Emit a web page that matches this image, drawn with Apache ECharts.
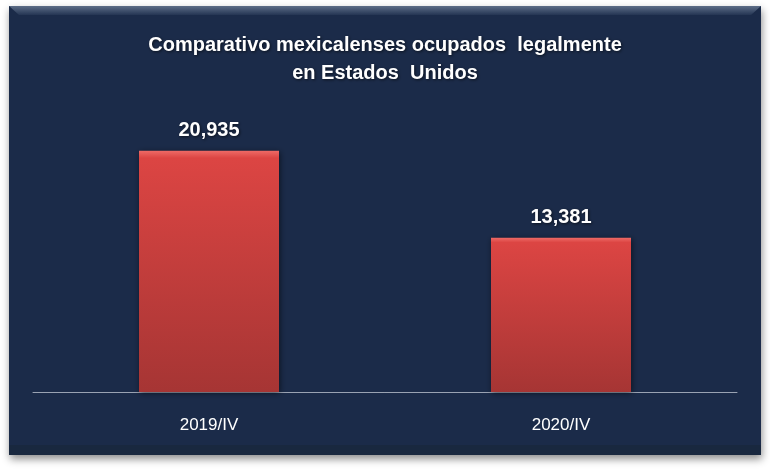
<!DOCTYPE html>
<html>
<head>
<meta charset="utf-8">
<script src="https://cdn.jsdelivr.net/npm/echarts@6/dist/echarts.min.js"></script>
<style>html,body{margin:0;padding:0;background:#fff;}#c{width:770px;height:470px;}</style>
</head>
<body>
<div id="c"></div>
<script>
const categories = ['2019/IV', '2020/IV'];
const values = [20935, 13381];
const titleLines = ['Comparativo mexicalenses ocupados  legalmente', 'en Estados  Unidos'];

const FONT = '"Liberation Sans", sans-serif';
const chart = echarts.init(document.getElementById('c'), null, {renderer: 'canvas'});
chart.setOption({
  backgroundColor: '#ffffff',
  animation: false,
  graphic: [
    {
      type: 'rect', z: -10, silent: true,
      shape: {x: 9, y: 6, width: 752, height: 449},
      style: {
        fill: '#1b2b49',
        shadowBlur: 8, shadowOffsetX: 1, shadowOffsetY: 4, shadowColor: 'rgba(0,0,0,0.45)'
      }
    },
    {
      type: 'polygon', z: -9, silent: true,
      shape: {points: [[9,6],[761,6],[751,15],[19,15]]},
      style: {
        fill: new echarts.graphic.LinearGradient(0, 0, 0, 1, [
          {offset: 0, color: '#5d6d87'}, {offset: 1, color: '#243553'}
        ])
      }
    },
    {
      type: 'rect', z: -9, silent: true,
      shape: {x: 9, y: 445, width: 752, height: 10},
      style: {fill: '#19283f'}
    }
  ],
  title: {
    text: titleLines.join('\n'),
    left: 'center',
    top: 26,
    textStyle: {
      color: '#ffffff', fontFamily: FONT, fontWeight: 'bold', fontSize: 20, lineHeight: 28,
      textShadowColor: 'rgba(0,0,0,0.6)', textShadowBlur: 3, textShadowOffsetX: 1, textShadowOffsetY: 1
    }
  },
  grid: {left: 33, right: 33, top: 104, bottom: 78},
  xAxis: {
    type: 'category',
    data: categories,
    axisLine: {lineStyle: {color: '#9aa3b3', width: 1}},
    axisTick: {show: false},
    axisLabel: {color: '#ffffff', fontFamily: FONT, fontSize: 17, margin: 25}
  },
  yAxis: {
    type: 'value', min: 0, max: 25000, show: false,
    splitLine: {show: false}
  },
  series: [{
    type: 'bar',
    data: values,
    barWidth: 140,
    itemStyle: {
      color: new echarts.graphic.LinearGradient(0, 0, 0, 1, [
        {offset: 0, color: '#ee6a66'},
        {offset: 0.03, color: '#dc4543'},
        {offset: 1, color: '#a63534'}
      ]),
      shadowColor: 'rgba(0,0,0,0.55)', shadowBlur: 6, shadowOffsetX: 1, shadowOffsetY: 1
    },
    label: {
      show: true, position: 'top', distance: 10,
      color: '#ffffff', fontFamily: FONT, fontWeight: 'bold', fontSize: 20,
      textShadowColor: 'rgba(0,0,0,0.6)', textShadowBlur: 3, textShadowOffsetX: 1, textShadowOffsetY: 1,
      formatter: p => p.value.toLocaleString('en-US')
    }
  }]
});
</script>
</body>
</html>
